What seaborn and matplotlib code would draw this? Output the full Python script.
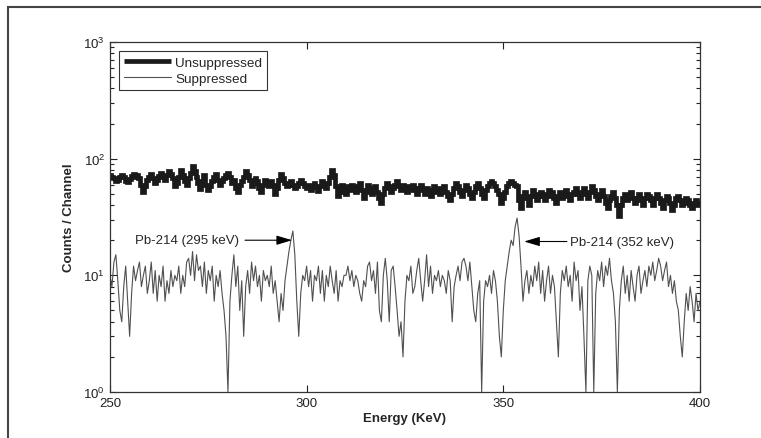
import numpy as np
import pandas as pd
import matplotlib
matplotlib.use("Agg")
import matplotlib.pyplot as plt
import seaborn as sns
from matplotlib.patches import Rectangle
from matplotlib.ticker import LogLocator, FixedLocator

# energy axis, 0.5 keV channels
energy = np.arange(250, 400.5, 0.5)

# counts per channel
unsuppressed = [
    72, 70, 68, 64, 66, 70, 73, 69, 65, 63, 67, 71, 74, 70, 72, 68, 60, 52, 58, 66,
    70, 74, 68, 62, 66, 71, 75, 70, 66, 72, 78, 74, 68, 58, 62, 70, 80, 72, 64, 60,
    68, 76, 86, 78, 70, 62, 55, 64, 72, 60, 54, 58, 64, 70, 74, 66, 60, 64, 68, 72,
    76, 70, 62, 66, 56, 52, 60, 64, 70, 78, 72, 66, 58, 62, 68, 64, 56, 52, 60, 66,
    62, 58, 64, 60, 50, 56, 66, 74, 68, 62, 58, 60, 64, 60, 56, 58, 62, 66, 62, 58,
    56, 60, 54, 58, 62, 57, 53, 58, 64, 60, 56, 62, 70, 80, 72, 58, 48, 52, 60, 56,
    50, 58, 54, 60, 56, 52, 58, 62, 54, 46, 52, 60, 56, 50, 54, 58, 52, 46, 42, 50,
    56, 62, 58, 52, 56, 60, 64, 58, 54, 60, 56, 52, 58, 54, 60, 56, 50, 56, 60, 54,
    50, 56, 52, 48, 54, 58, 52, 56, 50, 54, 58, 52, 48, 44, 50, 56, 62, 58, 52, 48,
    54, 60, 56, 50, 46, 52, 58, 62, 56, 50, 46, 54, 58, 62, 64, 62, 58, 54, 50, 42,
    46, 52, 58, 62, 64, 62, 60, 58, 44, 38, 48, 52, 46, 40, 48, 54, 50, 44, 48, 52,
    48, 44, 50, 54, 48, 52, 46, 42, 48, 52, 46, 50, 54, 48, 44, 50, 52, 56, 50, 46,
    52, 56, 50, 46, 52, 58, 54, 48, 44, 50, 54, 48, 42, 38, 44, 48, 52, 46, 40, 32,
    40, 46, 50, 44, 48, 52, 46, 42, 46, 50, 44, 40, 46, 50, 48, 44, 40, 46, 50, 46,
    42, 38, 44, 48, 46, 42, 36, 40, 46, 48, 44, 40, 42, 46, 44, 40, 38, 42, 44, 40, 42,
]

suppressed = [
    10, 8, 13, 15, 9, 5, 4, 8, 12, 6, 3, 7, 12, 9, 11, 13, 8, 10, 12, 7,
    9, 13, 7, 11, 6, 10, 8, 12, 6, 9, 7, 11, 8, 10, 9, 12, 7, 10, 8, 13,
    14, 10, 16, 9, 15, 11, 12, 8, 13, 7, 11, 9, 12, 6, 10, 8, 11, 7, 5, 3,
    1, 6, 10, 15, 8, 12, 5, 9, 3, 8, 11, 7, 13, 9, 12, 8, 10, 6, 11, 9,
    10, 8, 12, 7, 9, 6, 4, 7, 5, 9, 12, 16, 20, 24, 15, 6, 3, 7, 10, 9,
    12, 8, 11, 6, 10, 9, 12, 7, 11, 6, 10, 8, 12, 9, 7, 11, 6, 9, 8, 10,
    10, 12, 9, 11, 8, 10, 9, 7, 6, 9, 8, 12, 13, 9, 11, 7, 13, 5, 4, 10,
    14, 9, 4, 11, 12, 8, 5, 3, 4, 2, 6, 10, 9, 12, 7, 8, 11, 14, 9, 6,
    9, 15, 8, 12, 7, 10, 9, 11, 8, 10, 9, 7, 11, 9, 4, 8, 10, 12, 9, 13,
    14, 12, 9, 13, 8, 5, 4, 7, 9, 1, 6, 9, 8, 10, 7, 11, 9, 6, 3, 2,
    5, 9, 12, 16, 20, 18, 26, 31, 22, 12, 6, 9, 11, 7, 10, 8, 12, 9, 13, 7,
    11, 6, 9, 12, 7, 10, 8, 4, 2, 7, 11, 9, 12, 8, 10, 6, 13, 9, 11, 5,
    8, 3, 1, 9, 12, 10, 1, 7, 11, 9, 13, 8, 12, 10, 14, 9, 7, 4, 1, 5,
    9, 12, 7, 10, 6, 11, 8, 6, 10, 12, 7, 9, 11, 8, 12, 10, 13, 9, 11, 14,
    12, 9, 11, 13, 8, 10, 7, 9, 6, 5, 3, 2, 4, 7, 5, 8, 6, 4, 7, 5, 6,
]

df = pd.DataFrame({"energy": energy, "Unsuppressed": unsuppressed, "Suppressed": suppressed})

sns.set_style("ticks")
plt.rcParams["font.family"] = ["Liberation Sans", "DejaVu Sans"]

fig = plt.figure(figsize=(7.61, 4.39), dpi=100)
ax = fig.add_axes([0.1445, 0.1048, 0.7753, 0.7972])

sns.lineplot(data=df, x="energy", y="Unsuppressed", ax=ax, color="#1a1a1a",
             linewidth=3.4, label="Unsuppressed", drawstyle="steps-mid",
             solid_joinstyle="miter", solid_capstyle="butt")
sns.lineplot(data=df, x="energy", y="Suppressed", ax=ax, color="#505050",
             linewidth=0.8, label="Suppressed")

ax.set_yscale("log")
ax.set_xlim(250, 400)
ax.set_ylim(1, 1000)
ax.xaxis.set_major_locator(FixedLocator([250, 300, 350, 400]))
ax.yaxis.set_major_locator(LogLocator(base=10, numticks=10))
ax.yaxis.set_minor_locator(LogLocator(base=10, subs=np.arange(2, 10), numticks=10))

ax.tick_params(which="both", direction="in", top=True, right=True, labelsize=9.5,
               colors="#222222", width=0.8)
ax.tick_params(which="major", length=5)
ax.tick_params(which="minor", length=3)
ax.xaxis.set_tick_params(which="minor", top=False, bottom=False)
for s in ax.spines.values():
    s.set_color("#333333")
    s.set_linewidth(0.9)

ax.set_xlabel("Energy (KeV)", fontsize=9.5, fontweight="bold", labelpad=2)
ax.set_ylabel("Counts / Channel", fontsize=9.5, fontweight="bold", labelpad=6)

leg = ax.legend(loc="upper left", fontsize=9.7, frameon=True, fancybox=False,
                edgecolor="black", handlelength=3.5, borderpad=0.35,
                labelspacing=0.3, handletextpad=0.3, borderaxespad=0.7)
leg.get_frame().set_linewidth(0.8)
leg.legend_handles[0].set_drawstyle("default")
leg.legend_handles[0].set_solid_capstyle("butt")

ax.annotate("Pb-214 (295 keV)", xy=(296.3, 20), xytext=(282.8, 20),
            ha="right", va="center", fontsize=9.5,
            arrowprops=dict(arrowstyle="-|>,head_length=1.0,head_width=0.3",
                            color="black", lw=0.8, shrinkA=2, shrinkB=0))
ax.annotate("Pb-214 (352 keV)", xy=(355.3, 19.5), xytext=(367.0, 19.5),
            ha="left", va="center", fontsize=9.5,
            arrowprops=dict(arrowstyle="-|>,head_length=1.0,head_width=0.3",
                            color="black", lw=0.8, shrinkA=0, shrinkB=0))

# outer frame, cut off at right and bottom like the original
fig.patches.append(Rectangle((8 / 761, -0.1), 1.2, (439 - 8) / 439 + 0.1,
                             transform=fig.transFigure, fill=False,
                             edgecolor="#444444", linewidth=1.5))

fig.savefig("out.png", dpi=100)
